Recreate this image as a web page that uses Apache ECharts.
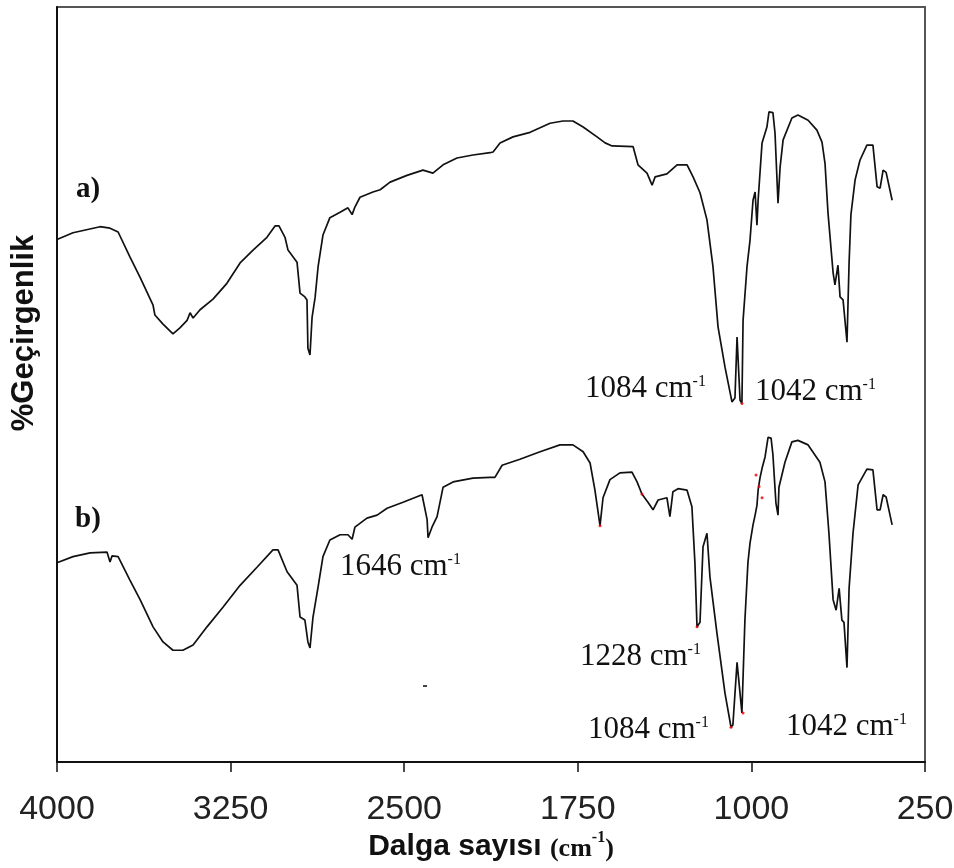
<!DOCTYPE html>
<html>
<head>
    <meta charset="utf-8">
    <title></title>
    <script type="text/javascript" src="https://cdn.jsdelivr.net/npm/echarts@6/dist/echarts.min.js"></script>
</head>
<body style="margin:0;background:#fff;">
<div id="main" style="width: 954px;height:868px;"></div>
    <script type="text/javascript">
        // x tick labels (cm-1), axis runs 4000 -> 250
        var xTicks = [4000, 3250, 2500, 1750, 1000, 250];

        // spectrum a) : wavenumber / transmittance (arbitrary %)
        var aWn = [4000, 3931, 3814, 3771, 3736, 3685, 3641, 3585, 3577, 3542, 3499, 3469, 3438, 3425, 3412, 3382,
            3326, 3266, 3209, 3153, 3093, 3058, 3041, 3015, 3002, 2963, 2950, 2929, 2920, 2916, 2907, 2898,
            2885, 2872, 2851, 2821, 2777, 2743, 2725, 2713, 2691, 2635, 2604, 2561, 2488, 2419, 2376, 2332,
            2272, 2203, 2129, 2116, 2086, 2030, 1956, 1870, 1814, 1771, 1727, 1667, 1632, 1602, 1511, 1490,
            1451, 1429, 1416, 1365, 1321, 1278, 1252, 1222, 1192, 1166, 1144, 1114, 1084, 1071, 1062, 1058,
            1049, 1041, 1036, 1019, 1006, 993, 984, 976, 971, 954, 933, 924, 907, 898, 885, 876,
            863, 825, 799, 755, 717, 695, 682, 669, 647, 639, 626, 617, 604, 587, 578, 570,
            552, 531, 501, 475, 457, 444, 431, 418, 392];
        var aT = [69.2, 70.1, 70.9, 70.7, 70.2, 66.9, 64.2, 60.5, 59.2, 58.0, 56.7, 57.5, 58.5, 59.5, 58.8, 59.9,
            61.3, 63.4, 66.1, 67.8, 69.5, 71.0, 71.0, 69.5, 67.8, 66.2, 62.1, 61.6, 61.2, 54.8, 53.9, 58.9,
            61.5, 65.6, 69.8, 72.1, 72.8, 73.4, 72.5, 73.5, 74.8, 75.5, 75.8, 76.8, 77.7, 78.4, 78.0, 79.1,
            80.0, 80.4, 80.7, 80.8, 82.0, 82.8, 83.4, 84.6, 84.9, 84.9, 84.1, 82.8, 82.0, 81.6, 81.5, 79.1,
            78.0, 76.4, 77.5, 77.9, 79.1, 79.1, 77.5, 75.4, 71.8, 65.6, 57.6, 52.3, 47.7, 48.2, 56.3, 56.3,
            47.9, 47.5, 58.5, 65.6, 69.1, 74.4, 75.5, 71.1, 74.4, 82.0, 84.1, 86.1, 86.0, 83.3, 74.0, 78.8,
            82.4, 85.3, 85.7, 85.0, 83.7, 82.1, 79.3, 72.7, 64.8, 63.2, 65.8, 61.6, 61.2, 55.6, 66.1, 72.5,
            77.1, 79.7, 81.7, 81.7, 76.2, 76.0, 78.4, 78.1, 74.4];

        // spectrum b)
        var bWn = [4000, 3931, 3857, 3784, 3771, 3762, 3736, 3685, 3641, 3585, 3542, 3499, 3456, 3412, 3352, 3283,
            3209, 3136, 3067, 3045, 3006, 2963, 2950, 2929, 2916, 2907, 2894, 2872, 2851, 2821, 2777, 2743,
            2725, 2713, 2661, 2617, 2574, 2505, 2423, 2401, 2397, 2380, 2358, 2332, 2289, 2203, 2129, 2108,
            2077, 2000, 1913, 1827, 1771, 1727, 1697, 1676, 1654, 1641, 1611, 1568, 1516, 1494, 1473, 1447,
            1425, 1403, 1365, 1352, 1339, 1317, 1278, 1257, 1244, 1235, 1222, 1209, 1192, 1179, 1149, 1114,
            1088, 1080, 1062, 1054, 1041, 1036, 1028, 1015, 1006, 993, 984, 976, 971, 963, 954, 941,
            928, 915, 907, 894, 885, 881, 855, 825, 799, 755, 704, 682, 665, 647, 634, 621,
            609, 600, 587, 578, 561, 539, 501, 475, 457, 444, 431, 418, 392];
        var bT = [26.4, 27.2, 27.7, 27.8, 26.5, 27.3, 27.2, 24.1, 21.5, 17.9, 15.9, 14.8, 14.8, 15.5, 17.9, 20.5,
            23.4, 25.8, 28.1, 28.1, 25.2, 23.4, 19.2, 18.8, 15.9, 15.1, 19.2, 23.2, 27.2, 29.4, 30.1, 30.1,
            29.5, 31.1, 32.3, 32.7, 33.6, 34.4, 35.4, 32.1, 29.7, 31.1, 32.5, 36.4, 37.1, 37.6, 37.7, 37.7,
            39.3, 40.1, 41.1, 42.0, 42.0, 41.1, 39.6, 36.0, 31.3, 35.0, 37.4, 38.3, 38.4, 37.1, 35.5, 34.4,
            33.4, 34.7, 35.0, 32.5, 35.8, 36.2, 36.0, 33.8, 26.4, 17.9, 18.5, 28.5, 30.3, 24.5, 17.1, 9.1,
            4.6, 4.9, 13.2, 13.2, 6.5, 6.5, 18.8, 26.4, 29.0, 31.4, 32.7, 34.0, 36.0, 37.6, 38.9, 40.4,
            43.0, 42.9, 40.7, 34.3, 32.7, 36.4, 39.7, 42.4, 42.6, 42.0, 39.7, 37.1, 30.3, 21.5, 20.1, 23.0,
            18.8, 18.5, 12.5, 23.0, 30.3, 36.7, 38.8, 38.7, 33.4, 33.4, 35.4, 35.1, 31.4];

        // small red points left on the scanned spectra
        var redWn = [1041, 1654, 1473, 1235, 1088, 1036, 980, 967, 954];
        var redT = [47.5, 31.3, 35.5, 17.9, 4.6, 6.5, 38.0, 36.5, 35.0];

        // peak annotations
        var peakLabels = ['1084 cm', '1042 cm', '1646 cm', '1228 cm', '1084 cm', '1042 cm'];

        function zip(x, y) {
            var out = [];
            for (var i = 0; i < x.length; i++) out.push([x[i], y[i]]);
            return out;
        }

        var serif = '"Liberation Serif", "Times New Roman", serif';
        var sans = '"Liberation Sans", Arial, sans-serif';

        function peak(txt, x, y) {
            return {
                type: 'text', x: x, y: y, z: 10,
                style: {
                    text: '{m|' + txt + '}{s|-1}',
                    align: 'left', verticalAlign: 'middle',
                    fill: '#111',
                    rich: {
                        m: { fontFamily: serif, fontSize: 31, lineHeight: 30, color: '#111', verticalAlign: 'bottom' },
                        s: { fontFamily: serif, fontSize: 16, lineHeight: 14, color: '#111', verticalAlign: 'top' }
                    }
                }
            };
        }

        var charts = echarts.init(document.getElementById('main'));

        var option = {
            backgroundColor: '#fff',
            animation: false,
            grid: {
                left: 57, right: 29, top: 7, bottom: 106,
                outerBoundsMode: 'none',
                show: true, borderColor: '#555', borderWidth: 2, backgroundColor: '#fff'
            },
            xAxis: {
                type: 'value',
                inverse: true,
                min: xTicks[xTicks.length - 1],
                max: xTicks[0],
                interval: 750,
                axisLine: { show: true, onZero: false, lineStyle: { color: '#111', width: 2 } },
                axisTick: { show: true, length: 10, lineStyle: { color: '#111', width: 1.5 } },
                axisLabel: {
                    show: true, margin: 31, color: '#222',
                    fontFamily: sans,
                    fontSize: 34, showMinLabel: true, showMaxLabel: true,
                    formatter: function (v) { return String(v); }
                },
                splitLine: { show: false }
            },
            yAxis: {
                type: 'value',
                min: 0, max: 100,
                axisLine: { show: true, lineStyle: { color: '#111', width: 2 } },
                axisTick: { show: false },
                axisLabel: { show: false },
                splitLine: { show: false }
            },
            graphic: [
                {
                    type: 'text', x: 24, y: 333, rotation: Math.PI / 2,
                    style: { text: '%Geçirgenlik', font: 'bold 31px ' + sans, fill: '#111', align: 'center', verticalAlign: 'middle' }
                },
                {
                    type: 'text', x: 491, y: 846,
                    style: {
                        text: '{a|Dalga sayısı }{b|(cm}{c|-1}{b|)}',
                        align: 'center', verticalAlign: 'middle', fill: '#111',
                        rich: {
                            a: { fontFamily: sans, fontWeight: 'bold', fontSize: 30, lineHeight: 32, color: '#111', verticalAlign: 'bottom' },
                            b: { fontFamily: serif, fontWeight: 'bold', fontSize: 26, lineHeight: 32, color: '#111', verticalAlign: 'bottom' },
                            c: { fontFamily: serif, fontWeight: 'bold', fontSize: 16, lineHeight: 16, color: '#111', verticalAlign: 'top' }
                        }
                    }
                },
                {
                    type: 'text', x: 76, y: 190,
                    style: { text: 'a)', font: 'bold 29px ' + serif, fill: '#111', align: 'left', verticalAlign: 'middle' }
                },
                {
                    type: 'text', x: 75, y: 520,
                    style: { text: 'b)', font: 'bold 29px ' + serif, fill: '#111', align: 'left', verticalAlign: 'middle' }
                },
                peak(peakLabels[0], 585, 389),
                peak(peakLabels[1], 755, 392),
                peak(peakLabels[2], 340, 567),
                peak(peakLabels[3], 580, 657),
                peak(peakLabels[4], 588, 730),
                peak(peakLabels[5], 786, 727),
                { type: 'rect', shape: { x: 423, y: 685, width: 4, height: 2 }, style: { fill: '#444' } }
            ],
            series: [
                {
                    name: 'a', type: 'line', data: zip(aWn, aT),
                    showSymbol: false, smooth: false,
                    lineStyle: { color: '#111', width: 1.7 }
                },
                {
                    name: 'b', type: 'line', data: zip(bWn, bT),
                    showSymbol: false, smooth: false,
                    lineStyle: { color: '#111', width: 1.7 }
                },
                {
                    name: 'red', type: 'scatter', data: zip(redWn, redT),
                    symbolSize: 3, itemStyle: { color: '#e00' }, z: 5
                }
            ]
        };
        charts.setOption(option);
    </script>
</body>
</html>
